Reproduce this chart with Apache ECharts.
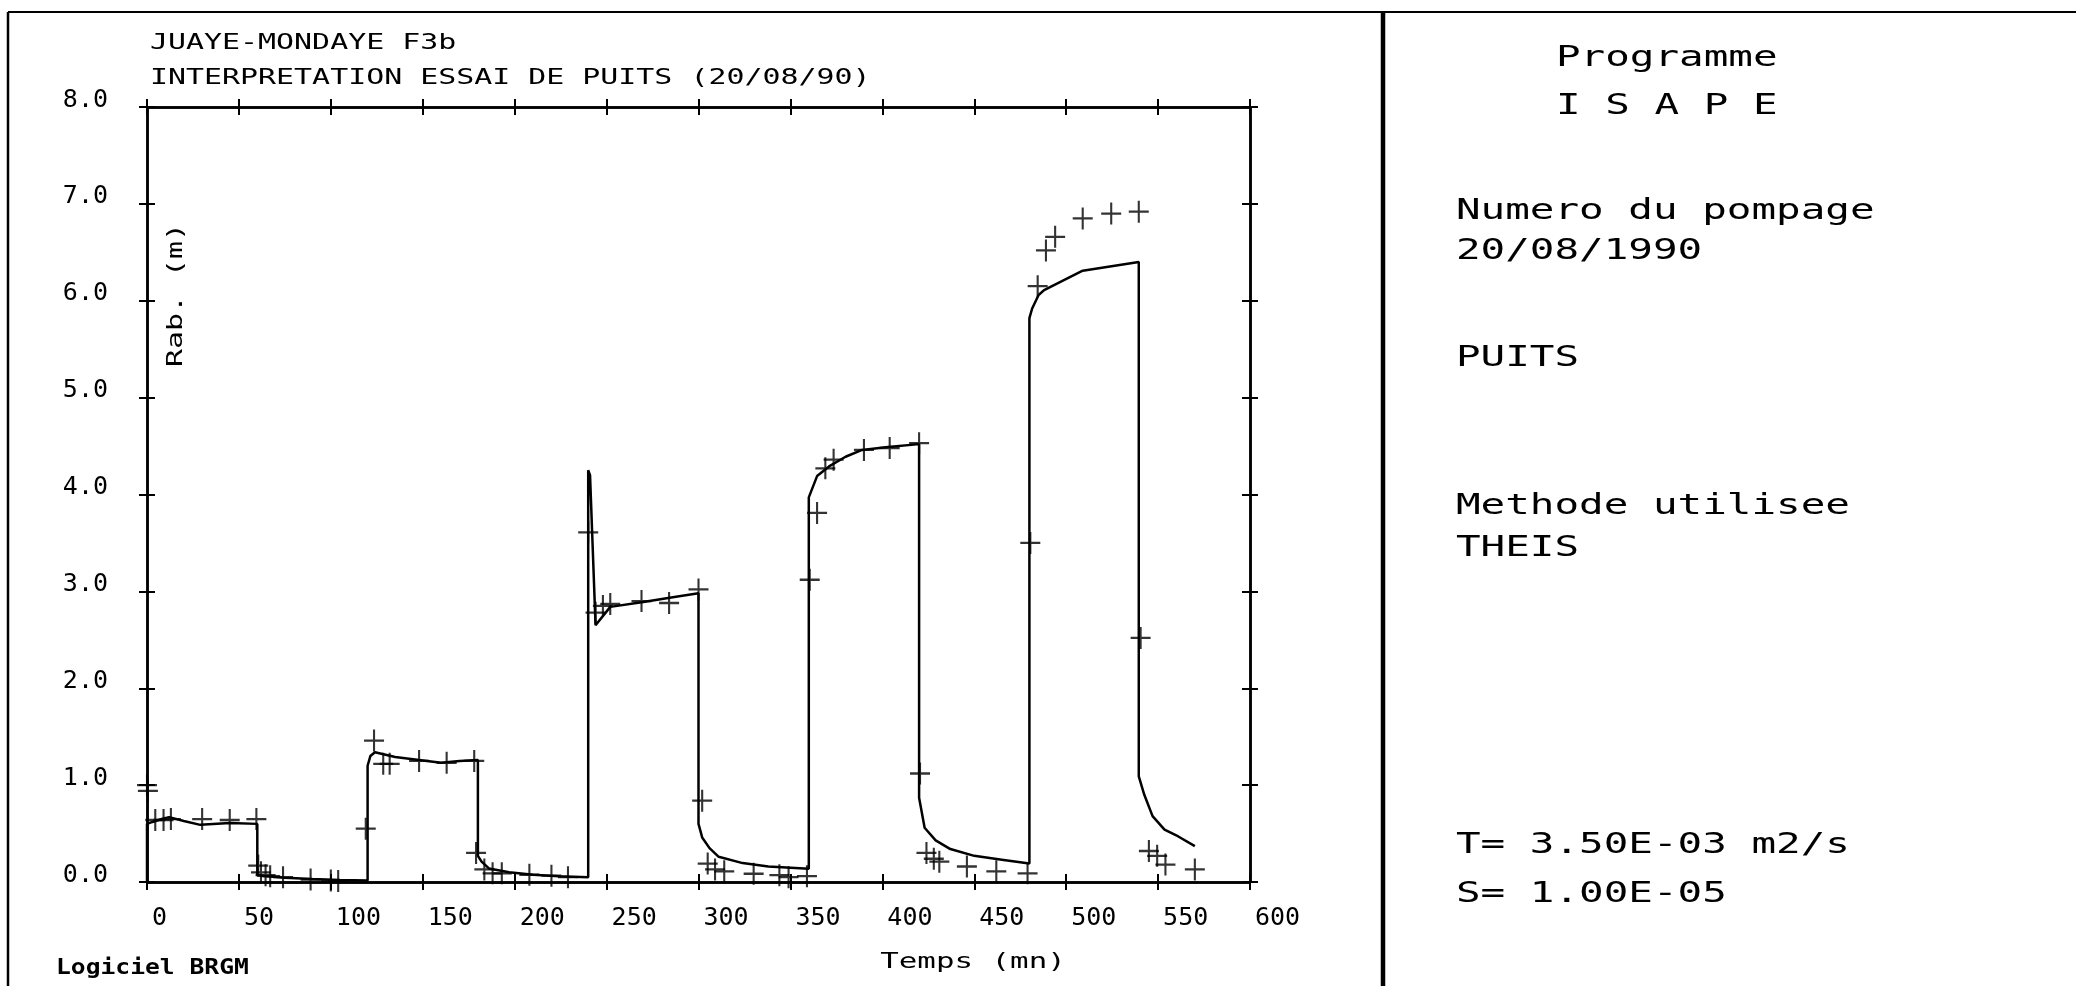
<!DOCTYPE html>
<html>
<head>
<meta charset="utf-8">
<script src="https://cdn.jsdelivr.net/npm/echarts@6/dist/echarts.min.js"></script>
<style>
html,body{margin:0;padding:0;background:#fff;}
#c{width:2076px;height:986px;}
</style>
</head>
<body>
<div id="c"></div>
<script>
// ---- Data ----
// Theis model curve: time (mn) and drawdown (m)
const modelTime = [
  0, 0, 3, 8, 12, 20, 29, 45, 60,
  60, 65, 75, 90, 105, 120,
  120, 121.5, 124, 135, 148, 160, 170, 180,
  180, 182, 186, 197, 210, 224, 240,
  240, 241, 244, 252, 270, 286, 300,
  300, 302, 306, 311, 324, 338, 360,
  360, 364.5, 371, 380, 389, 403, 420,
  420, 423, 429, 437, 450, 465, 480,
  480, 481.5, 485, 488, 509, 539.5,
  539.5, 542.5, 547, 553.5, 561, 570
];
const modelDrawdown = [
  0, 0.60, 0.62, 0.65, 0.67, 0.63, 0.59, 0.61, 0.60,
  0.07, 0.06, 0.045, 0.03, 0.02, 0.015,
  1.20, 1.30, 1.34, 1.29, 1.26, 1.23, 1.25, 1.26,
  0.27, 0.21, 0.14, 0.10, 0.075, 0.06, 0.05,
  4.25, 4.20, 2.65, 2.84, 2.89, 2.94, 2.98,
  0.60, 0.46, 0.35, 0.26, 0.195, 0.16, 0.137,
  3.97, 4.19, 4.29, 4.39, 4.46, 4.49, 4.52,
  0.87, 0.56, 0.43, 0.34, 0.27, 0.23, 0.19,
  5.82, 5.92, 6.06, 6.11, 6.31, 6.40,
  1.09, 0.90, 0.68, 0.54, 0.47, 0.37
];
// Observed drawdowns (+ marks)
const obsTime = [
  0, 0.5, 4.5, 9, 13, 30, 45, 59.5,
  60.5, 62, 64.5, 67, 74, 89, 100, 104,
  119, 123.5, 128.5, 132, 148, 163, 178,
  179, 183.5, 188, 193, 208, 220, 229,
  240, 244, 248, 252, 269, 284, 300,
  302, 305, 309, 314, 330, 344, 349, 359,
  360.5, 364.5, 369, 373.5, 390, 404, 420,
  420.5, 424, 428, 431, 446, 462, 479,
  480.5, 484.5, 489, 494, 509, 524.5, 539.5,
  540.5, 545, 549.5, 554, 570
];
const obsDrawdown = [
  1.00, 0.94, 0.64, 0.64, 0.65, 0.65, 0.64, 0.65,
  0.17, 0.10, 0.07, 0.06, 0.05, 0.025, 0.015, 0.01,
  0.55, 1.46, 1.22, 1.22, 1.25, 1.23, 1.25,
  0.30, 0.13, 0.09, 0.09, 0.075, 0.065, 0.05,
  3.61, 2.78, 2.85, 2.87, 2.90, 2.88, 3.02,
  0.84, 0.19, 0.13, 0.11, 0.085, 0.07, 0.05, 0.06,
  3.12, 3.81, 4.27, 4.36, 4.46, 4.48, 4.53,
  1.12, 0.30, 0.24, 0.21, 0.16, 0.11, 0.09,
  3.50, 6.15, 6.52, 6.66, 6.85, 6.90, 6.92,
  2.52, 0.32, 0.27, 0.18, 0.13
];
// Axes
const xMin = 0, xMax = 600, xStep = 50;
const yMin = 0, yMax = 8, yStep = 1;

// Texts
const titleLines = ['JUAYE-MONDAYE F3b', 'INTERPRETATION ESSAI DE PUITS (20/08/90)'];
const yAxisName = 'Rab. (m)';
const xAxisName = 'Temps (mn)';
const footer = 'Logiciel BRGM';
const panelHeader = [['Programme', 58], ['I S A P E', 106]];
const panelLines = [
  ['Numero du pompage', 211], ['20/08/1990', 251], ['PUITS', 358],
  ['Methode utilisee', 506], ['THEIS', 548],
  ['T= 3.50E-03 m2/s', 845], ['S= 1.00E-05', 894]
];

// ---- Chart ----
const MONO = '"DejaVu Sans Mono", "Liberation Mono", monospace';
const BLACK = '#000';
const gridBox = {left: 147, right: 826, top: 107, bottom: 104};

function xAxisDef(grid, pos, inside, labels) {
  return {
    type: 'value', gridIndex: grid, position: pos, min: xMin, max: xMax, interval: xStep,
    axisLine: {show: true, onZero: false, lineStyle: {color: BLACK, width: 2.5}},
    axisTick: {show: true, inside: inside, length: 8, lineStyle: {color: BLACK, width: 2}},
    splitLine: {show: false},
    axisLabel: labels ? {
      show: true, color: BLACK, fontFamily: MONO, fontSize: 25, margin: 24,
      align: 'left', padding: [0, 0, 0, 5], showMinLabel: true, showMaxLabel: true
    } : {show: false}
  };
}
function yAxisDef(grid, pos, inside, labels) {
  return {
    type: 'value', gridIndex: grid, position: pos, min: yMin, max: yMax, interval: yStep,
    axisLine: {show: true, onZero: false, lineStyle: {color: BLACK, width: 2.5}},
    axisTick: {show: true, inside: inside, length: 8, lineStyle: {color: BLACK, width: 2}},
    splitLine: {show: false},
    axisLabel: labels ? {
      show: true, color: BLACK, fontFamily: MONO, fontSize: 25, margin: 39,
      verticalAlign: 'bottom', lineHeight: 14, formatter: v => v.toFixed(1),
      showMinLabel: true, showMaxLabel: true
    } : {show: false}
  };
}

const modelData = modelTime.map((t, i) => [t, modelDrawdown[i]]);
const obsData = obsTime.map((t, i) => [t, obsDrawdown[i]]);

function txt(text, x, y, font, sx, align, rot) {
  return {
    type: 'text', x: x, y: y, scaleX: sx, rotation: rot || 0, silent: true,
    style: {text: text, fill: BLACK, font: font, align: align || 'left', verticalAlign: 'middle'}
  };
}
function ln(x1, y1, x2, y2, w) {
  return {type: 'line', silent: true, shape: {x1: x1, y1: y1, x2: x2, y2: y2},
          style: {stroke: BLACK, lineWidth: w}};
}

const F_TITLE = '22px ' + MONO;
const F_PANEL = '29px ' + MONO;
const graphics = [
  ln(8, 12, 2076, 12, 2),
  ln(8, 12, 8, 986, 2.5),
  ln(1383, 12, 1383, 986, 4.5),
  txt(titleLines[0], 150, 43, F_TITLE, 1.36),
  txt(titleLines[1], 150, 78, F_TITLE, 1.36),
  txt(yAxisName, 176, 295, F_TITLE, 1.36, 'center', Math.PI / 2),
  txt(footer, 56, 968, 'bold 22px ' + MONO, 1.12),
  txt(xAxisName, 973, 962, '22px ' + MONO, 1.40, 'center')
];
panelHeader.forEach(p => graphics.push(txt(p[0], 1556, p[1], F_PANEL, 1.41)));
panelLines.forEach(p => graphics.push(txt(p[0], 1456, p[1], F_PANEL, 1.41)));

const chart = echarts.init(document.getElementById('c'), null, {renderer: 'canvas', width: 2076, height: 986});
chart.setOption({
  animation: false,
  backgroundColor: '#fff',
  grid: [Object.assign({outerBoundsMode: 'none'}, gridBox), Object.assign({outerBoundsMode: 'none'}, gridBox)],
  xAxis: [
    xAxisDef(0, 'bottom', false, true),
    xAxisDef(0, 'top', false, false),
    xAxisDef(1, 'bottom', true, false),
    xAxisDef(1, 'top', true, false)
  ],
  yAxis: [
    yAxisDef(0, 'left', false, true),
    yAxisDef(0, 'right', false, false),
    yAxisDef(1, 'left', true, false),
    yAxisDef(1, 'right', true, false)
  ],
  series: [
    {
      type: 'line', name: 'Theis', xAxisIndex: 0, yAxisIndex: 0,
      data: modelData, showSymbol: false, symbol: 'none', smooth: false,
      lineStyle: {color: BLACK, width: 2.5}, silent: true, z: 2
    },
    {
      type: 'scatter', name: 'Mesures', xAxisIndex: 0, yAxisIndex: 0,
      data: obsData, symbol: 'path://M10 0 L10 20 M0 10 L20 10', symbolSize: [20, 22],
      itemStyle: {color: BLACK, borderColor: BLACK, borderWidth: 2.2}, silent: true, z: 3
    }
  ],
  graphic: graphics
});
</script>
</body>
</html>
